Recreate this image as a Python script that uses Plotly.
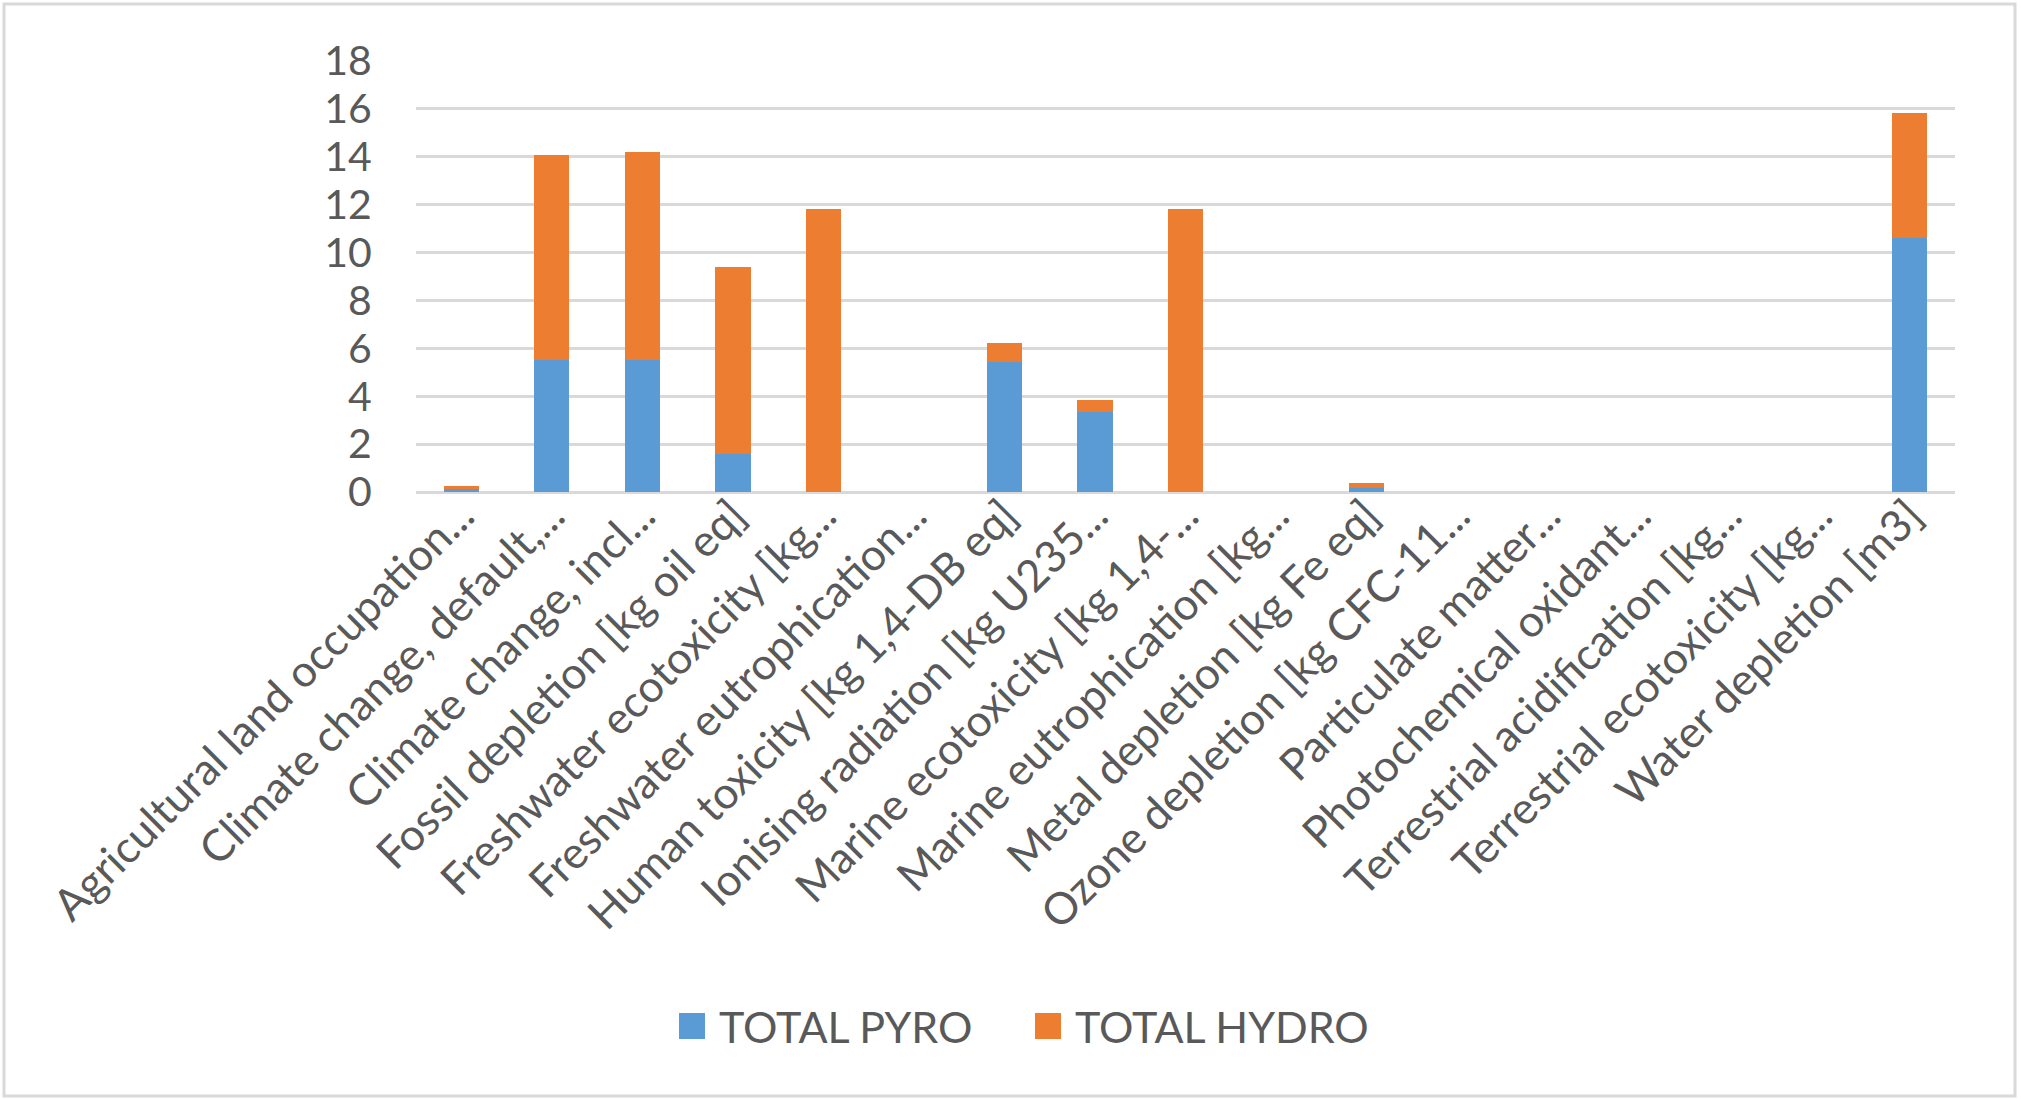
import plotly.graph_objects as go

# Impact categories (labels as shown on the axis, truncated)
categories = [
    "Agricultural land occupation...",
    "Climate change, default,...",
    "Climate change, incl...",
    "Fossil depletion [kg oil eq]",
    "Freshwater ecotoxicity [kg...",
    "Freshwater eutrophication...",
    "Human toxicity [kg 1,4-DB eq]",
    "Ionising radiation [kg U235...",
    "Marine ecotoxicity [kg 1,4-...",
    "Marine eutrophication [kg...",
    "Metal depletion [kg Fe eq]",
    "Ozone depletion [kg CFC-11...",
    "Particulate matter...",
    "Photochemical oxidant...",
    "Terrestrial acidification [kg...",
    "Terrestrial ecotoxicity [kg...",
    "Water depletion [m3]",
]

series_names = ["TOTAL PYRO", "TOTAL HYDRO"]
total_pyro = [0.12, 5.52, 5.52, 1.59, 0.0, 0.0, 5.42, 3.33, 0.0, 0.0,
              0.15, 0.0, 0.0, 0.0, 0.0, 0.0, 10.62]
total_hydro = [0.14, 8.57, 8.66, 7.80, 11.84, 0.0, 0.82, 0.52, 11.84, 0.0,
               0.21, 0.0, 0.0, 0.0, 0.0, 0.0, 5.20]

y_ticks = [0, 2, 4, 6, 8, 10, 12, 14, 16, 18]

BLUE = "#5B9BD5"
ORANGE = "#ED7D31"
GRID = "#D9D9D9"
TEXT = "#595959"
FONT = "Lato"

W, H = 2021, 1099
L, R, T, B = 416, 66, 61, 607
pw, ph = W - L - R, H - T - B


def px_x(v):
    return (v - L) / pw


def px_y(v):
    return (H - B - v) / ph


fig = go.Figure()
fig.add_trace(go.Bar(name=series_names[0], x=categories, y=total_pyro,
                     marker=dict(color=BLUE, line=dict(width=0)),
                     showlegend=False))
fig.add_trace(go.Bar(name=series_names[1], x=categories, y=total_hydro,
                     marker=dict(color=ORANGE, line=dict(width=0)),
                     showlegend=False))

# light frame around the whole chart
fig.add_shape(type="rect", xref="paper", yref="paper", layer="below",
              x0=px_x(4), x1=px_x(2015), y0=px_y(1096), y1=px_y(4),
              line=dict(color=GRID, width=3), fillcolor="rgba(0,0,0,0)")

# legend below the category labels: colour key squares + series names
legend_items = [(series_names[0], BLUE, 679), (series_names[1], ORANGE, 1035)]
key_size, key_cy = 26, 1026
for name, color, kx in legend_items:
    fig.add_shape(type="rect", xref="paper", yref="paper",
                  x0=px_x(kx), x1=px_x(kx + key_size),
                  y0=px_y(key_cy + key_size / 2), y1=px_y(key_cy - key_size / 2),
                  line=dict(width=0), fillcolor=color)
    fig.add_annotation(xref="paper", yref="paper", x=px_x(kx + key_size + 12),
                       y=px_y(key_cy), text=name, showarrow=False,
                       xanchor="left", yanchor="middle",
                       font=dict(size=43, color=TEXT, family=FONT))

fig.update_layout(
    width=W, height=H,
    margin=dict(l=L, r=R, t=T, b=B, autoexpand=False),
    barmode="stack",
    bargap=0.61,
    plot_bgcolor="white",
    paper_bgcolor="white",
    font=dict(family=FONT, color=TEXT, size=38),
    showlegend=False,
    xaxis=dict(
        tickangle=-45,
        showgrid=False,
        showline=False,
        ticks="",
        ticklabelstandoff=-12,
        tickfont=dict(size=44, color=TEXT, family=FONT),
    ),
    yaxis=dict(
        range=[0, 18],
        tickvals=y_ticks,
        showgrid=True, gridcolor=GRID, gridwidth=3,
        zeroline=True, zerolinecolor=GRID, zerolinewidth=3,
        showline=False,
        ticks="outside", ticklen=35, tickcolor="rgba(0,0,0,0)",
        tickfont=dict(size=41, color=TEXT, family=FONT),
    ),
)

fig.write_html("out.html")
